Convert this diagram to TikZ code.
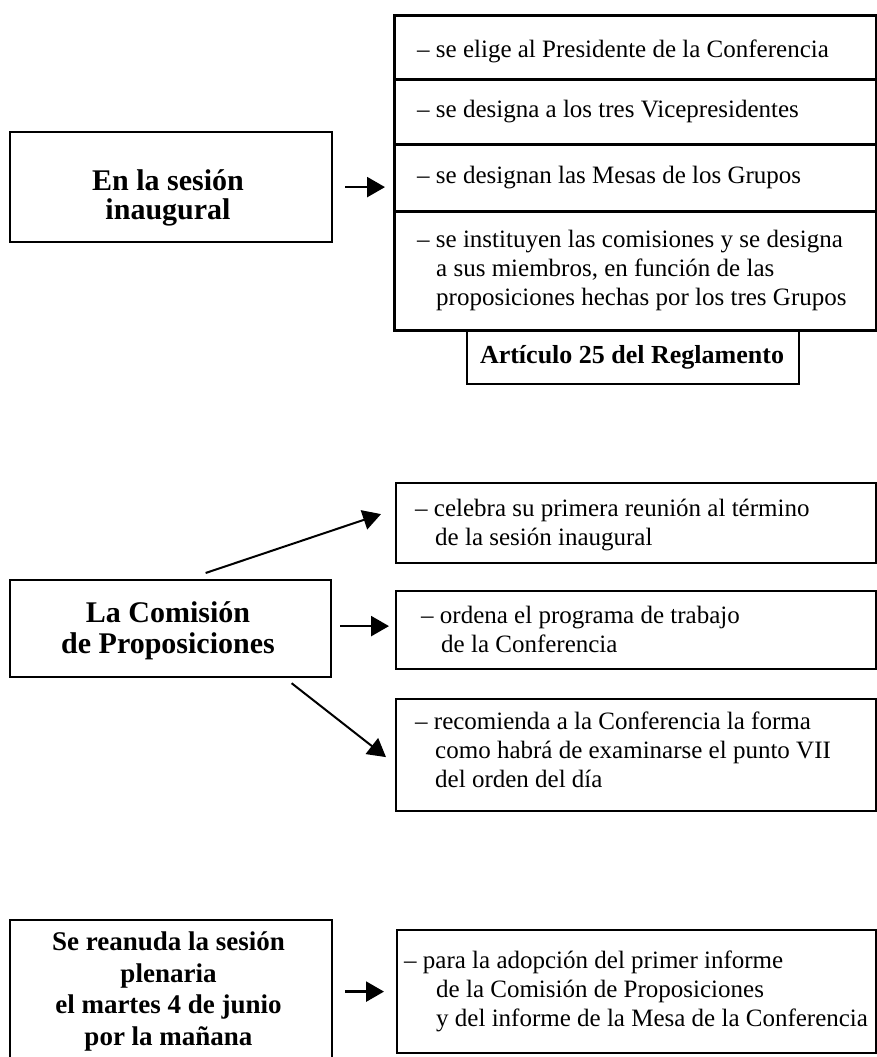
\documentclass[tikz,border=0pt]{standalone}
\usepackage{fontspec}
\setmainfont{Liberation Serif}
\usetikzlibrary{arrows.meta}
\begin{document}
\begin{tikzpicture}[x=1pt,y=-1pt,
  box/.style={draw, line width=2.2pt, inner sep=0pt, anchor=north west},
  txt/.style={inner sep=0pt, anchor=base west, align=left, font=\fontsize{25}{29}\selectfont},
  ttl/.style={inner sep=0pt, anchor=base, align=center, font=\fontsize{30}{29}\selectfont\bfseries},
  arr/.style={line width=2.5pt, -{Triangle[length=18pt,width=20pt]}},
  darr/.style={line width=2pt, -{Triangle[length=18pt,width=20pt]}}]
\useasboundingbox (0,0) rectangle (876,1057);
% (multi-line text nodes are placed at the baseline of their last line)

% ---- section 1
\node[box, minimum width=322pt, minimum height=110pt] (b1) at (9,131) {};
\node[box, line width=2.6pt, minimum width=481.5pt, minimum height=63.5pt] (r1) at (393,14.5) {};
\node[box, line width=2.6pt, minimum width=481.5pt, minimum height=65pt] (r2) at (393,78) {};
\node[box, line width=2.6pt, minimum width=481.5pt, minimum height=67pt] (r3) at (393,143) {};
\node[box, line width=2.6pt, minimum width=481.5pt, minimum height=119pt] (r4) at (393,210) {};
\node[box, minimum width=332pt, minimum height=54pt] (art) at (466,329) {};

\node[ttl] (t1) at (168,219) {En la sesión\\inaugural};
\node[txt] (tr1) at (417,57) {– se elige al Presidente de la Conferencia};
\node[txt] (tr2) at (417,117) {– se designa a los tres Vicepresidentes};
\node[txt] (tr3) at (417,183) {– se designan las Mesas de los Grupos};
\node[txt] (tr4) at (417,305) {– se instituyen las comisiones y se designa\\\hspace*{19pt}a sus miembros, en función de las\\\hspace*{19pt}proposiciones hechas por los tres Grupos};
\node[ttl, font=\fontsize{26}{30}\selectfont\bfseries] (tart) at (632,363) {Artículo 25 del Reglamento};

\coordinate (e1) at (b1.east -| r3.west);
\draw[arr] ([xshift=12pt]b1.east) -- ([xshift=-8pt]e1);

% ---- section 2
\node[box, minimum width=321pt, minimum height=97pt] (b2) at (9,579) {};
\node[box, minimum width=480pt, minimum height=80pt] (cel) at (395,482) {};
\node[box, minimum width=480pt, minimum height=78pt] (ord) at (395,590) {};
\node[box, minimum width=480pt, minimum height=112pt] (rec) at (395,698) {};

\node[ttl, font=\fontsize{30}{31}\selectfont\bfseries] (t2) at (168,653) {La Comisión\\de Proposiciones};
\node[txt] (tcel) at (415,545) {– celebra su primera reunión al término\\\hspace*{20pt}de la sesión inaugural};
\node[txt] (tord) at (421,652) {– ordena el programa de trabajo\\\hspace*{20pt}de la Conferencia};
\node[txt] (trec) at (415,787) {– recomienda a la Conferencia la forma\\\hspace*{20pt}como habrá de examinarse el punto VII\\\hspace*{20pt}del orden del día};

\coordinate (e2) at (b2.east -| ord.west);
\draw[darr] ([xshift=35pt,yshift=6pt]b2.north) -- ([xshift=-14pt,yshift=9pt]cel.west);
\draw[arr] ([xshift=8pt,yshift=2.5pt]b2.east) -- ([xshift=-6pt,yshift=2.5pt]e2);
\draw[darr] ([xshift=121pt,yshift=-5pt]b2.south) -- ([xshift=-9pt,yshift=-2pt]rec.west);

% ---- section 3
\node[box, minimum width=322pt, minimum height=160pt] (b3) at (9,919) {};
\node[box, minimum width=479pt, minimum height=123pt] (para) at (396,929) {};

\node[ttl, font=\fontsize{27}{31.5}\selectfont\bfseries] (t3) at (168.5,1045) {Se reanuda la sesión\\plenaria\\el martes 4 de junio\\por la mañana};
\node[txt] (tpara) at (404,1026) {– para la adopción del primer informe\\\hspace*{32pt}de la Comisión de Proposiciones\\\hspace*{32pt}y del informe de la Mesa de la Conferencia};

\coordinate (s3) at (b3.east |- para.west);
\draw[arr] ([xshift=12pt]s3) -- ([xshift=-12pt]para.west);
\end{tikzpicture}
\end{document}
